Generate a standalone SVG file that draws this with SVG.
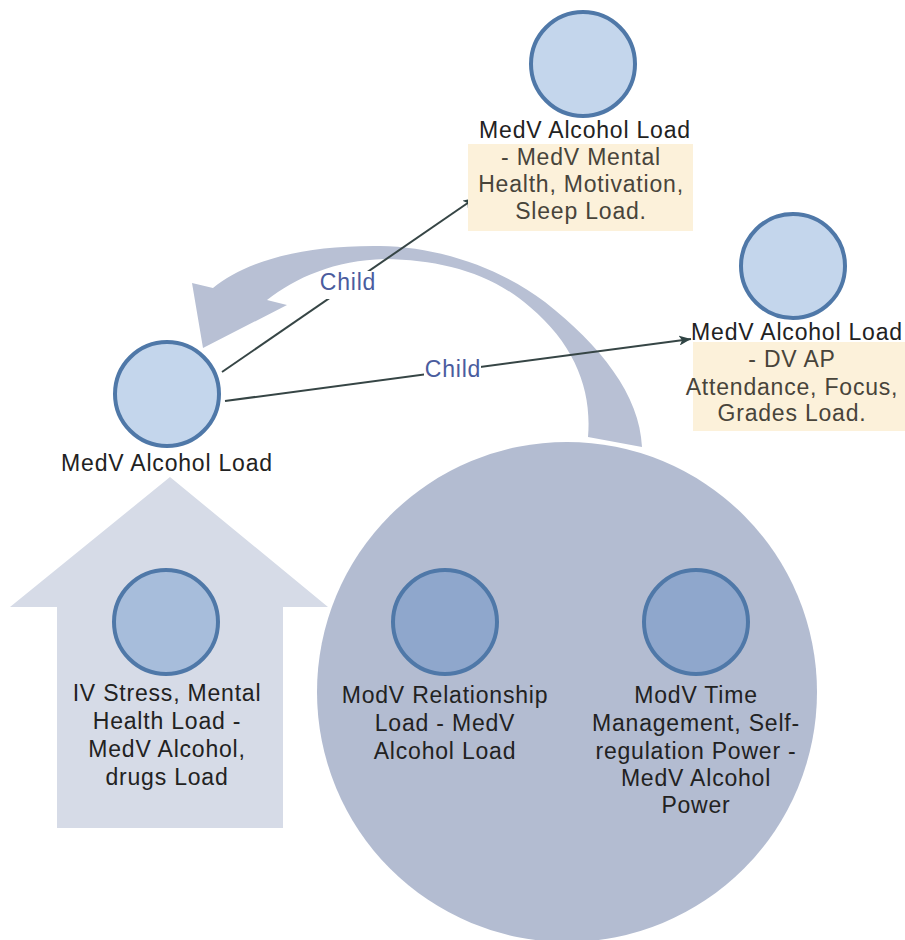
<svg xmlns="http://www.w3.org/2000/svg" width="905" height="940" viewBox="0 0 905 940">
  <defs>
    <marker id="arrow" markerWidth="12" markerHeight="10" refX="12" refY="5" orient="auto" markerUnits="userSpaceOnUse">
      <path d="M0,0 L12,5 L0,10 L3,5 Z" fill="#2f4444"/>
    </marker>
    <style>
      text { font-family: "Liberation Sans", Arial, sans-serif; font-size: 23px; letter-spacing: 0.8px; text-anchor: middle; }
      .node { fill: rgb(58,118,192); fill-opacity: 0.3; stroke: #4f78a8; stroke-width: 4; }
      .label { fill: #222; }
      .note { fill: #fcf1da; }
      .note-text { fill: #48443a; }
      .edge { stroke: #364545; stroke-width: 2; fill: none; }
      .edge-bg { fill: #ffffff; }
      .edge-label { fill: #4a5c9e; }
      .shape-up { fill: #d6dbe7; }
      .shape-ring { fill: #b3bcd1; }
      .shape-curve { fill: #b8c0d4; }
    </style>
  </defs>

  <!-- background shapes -->
  <g id="backdrop">
    <polygon class="shape-up" points="170,477 328,607 283,607 283,828 57,828 57,607 10,607"/>
    <circle class="shape-ring" cx="567" cy="692" r="250"/>
    <path class="shape-curve" d="M 213 288 C 245 262, 300 245, 380 246 C 440 247, 500 268, 545 302 C 600 345, 640 395, 642 447 L 588 437 C 592 390, 575 345, 530 307 C 490 272, 440 260, 385 259 C 335 260, 295 278, 267 300 L 287 305 L 203 348 L 192 283 Z"/>
  </g>

  <!-- connectors -->
  <g id="connectors">
    <line class="edge" x1="222" y1="372" x2="475" y2="198" marker-end="url(#arrow)"/>
    <rect class="edge-bg" x="321" y="271" width="55" height="28"/>
    <text class="edge-label" x="348" y="290">Child</text>
    <line class="edge" x1="225" y1="401" x2="691" y2="339" marker-end="url(#arrow)"/>
    <rect class="edge-bg" x="424" y="358" width="57" height="23"/>
    <text class="edge-label" x="453" y="377">Child</text>
  </g>

  <!-- nodes -->
  <g id="node-top">
    <circle class="node" cx="583" cy="64" r="52"/>
    <text class="label" x="585" y="138">MedV Alcohol Load</text>
    <rect class="note" x="468" y="144" width="225" height="87"/>
    <text class="note-text" x="581" y="165">- MedV Mental</text>
    <text class="note-text" x="581" y="192">Health, Motivation,</text>
    <text class="note-text" x="581" y="219">Sleep Load.</text>
  </g>

  <g id="node-right">
    <circle class="node" cx="793" cy="266" r="52"/>
    <rect class="note" x="693" y="342" width="212" height="89"/>
    <text class="label" x="797" y="340">MedV Alcohol Load</text>
    <text class="note-text" x="792" y="367">- DV AP</text>
    <text class="note-text" x="792" y="395">Attendance, Focus,</text>
    <text class="note-text" x="792" y="421">Grades Load.</text>
  </g>

  <g id="node-left">
    <circle class="node" cx="167" cy="394" r="52"/>
    <text class="label" x="167" y="471">MedV Alcohol Load</text>
  </g>

  <g id="node-iv">
    <circle class="node" cx="166" cy="622" r="52"/>
    <text class="label" x="167" y="701">IV Stress, Mental</text>
    <text class="label" x="167" y="729">Health Load -</text>
    <text class="label" x="167" y="757">MedV Alcohol,</text>
    <text class="label" x="167" y="785">drugs Load</text>
  </g>

  <g id="node-relationship">
    <circle class="node" cx="445" cy="622" r="52"/>
    <text class="label" x="445" y="703">ModV Relationship</text>
    <text class="label" x="445" y="731">Load - MedV</text>
    <text class="label" x="445" y="759">Alcohol Load</text>
  </g>

  <g id="node-time">
    <circle class="node" cx="696" cy="622" r="52"/>
    <text class="label" x="696" y="703">ModV Time</text>
    <text class="label" x="696" y="731">Management, Self-</text>
    <text class="label" x="696" y="759">regulation Power -</text>
    <text class="label" x="696" y="786">MedV Alcohol</text>
    <text class="label" x="696" y="813">Power</text>
  </g>
</svg>
